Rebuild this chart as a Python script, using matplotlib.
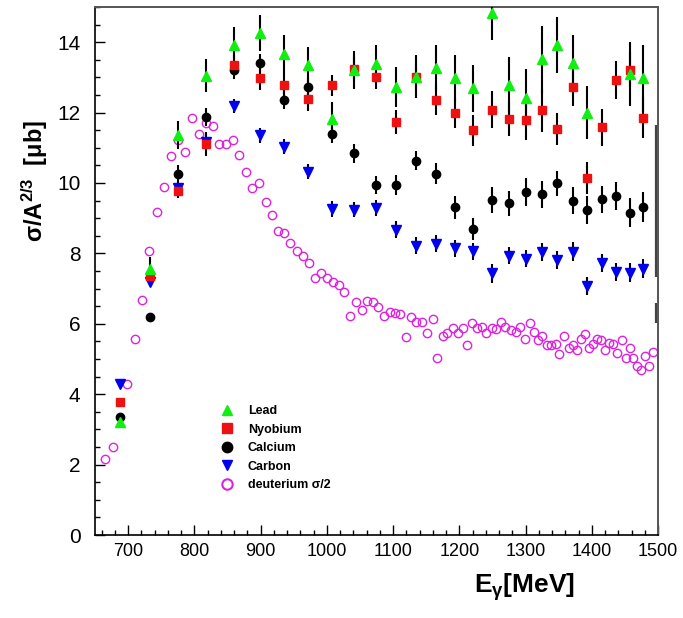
import matplotlib
matplotlib.use("Agg")
import matplotlib.pyplot as plt
from matplotlib.ticker import MultipleLocator
from matplotlib.lines import Line2D
import numpy as np

plt.rcParams["font.family"] = ["Liberation Sans", "DejaVu Sans"]
plt.rcParams["mathtext.fontset"] = "custom"
plt.rcParams["mathtext.rm"] = "Liberation Sans"
plt.rcParams["mathtext.bf"] = "Liberation Sans:bold"
plt.rcParams["mathtext.it"] = "Liberation Sans:italic"

nan = np.nan

# photon energy bins of the nuclear targets [MeV]
energy = [688, 733, 776, 818, 860, 899, 936, 972, 1008, 1041, 1074, 1105, 1135, 1165,
          1194, 1221, 1249, 1275, 1300, 1325, 1348, 1371, 1393, 1415, 1436, 1457, 1477]

# sigma / A^(2/3) [mub] and errors
lead = [3.21, 7.56, 11.36, 13.05, 13.93, 14.27, 13.66, 13.35, 11.82, 13.21, 13.38, 12.72, 13.02, 13.26,
        12.98, 12.69, 14.84, 12.77, 12.41, 13.52, 13.92, 13.40, 12.00, nan, nan, 13.10, 12.97]
lead_err = [0.15, 0.35, 0.40, 0.46, 0.49, 0.51, 0.54, 0.50, 0.48, 0.53, 0.54, 0.57, 0.61, 0.66,
            0.66, 0.66, 0.79, 0.80, 0.83, 0.95, 0.79, 0.79, 0.75, nan, nan, 0.90, 0.94]

nyobium = [3.78, 7.37, 9.78, 11.10, 13.35, 12.97, 12.77, 12.38, 12.77, 13.24, 13.02, 11.74, 13.00, 12.35,
           11.99, 11.50, 12.08, 11.82, 11.78, 12.06, 11.53, 12.74, 10.15, 11.58, 12.93, 13.22, 11.86]
nyobium_err = [0.12, 0.15, 0.20, 0.34, 0.30, 0.33, 0.35, 0.34, 0.31, 0.35, 0.35, 0.34, 0.35, 0.43,
               0.43, 0.44, 0.52, 0.49, 0.57, 0.60, 0.46, 0.54, 0.45, 0.53, 0.53, 0.50, 0.58]

calcium = [3.34, 6.20, 10.25, 11.87, 13.21, 13.40, 12.36, 12.74, 11.38, 10.84, 9.94, 9.94, 10.63, 10.26,
           9.31, 8.70, 9.52, 9.42, 9.75, 9.68, 9.99, 9.50, 9.24, 9.54, 9.63, 9.16, 9.31]
calcium_err = [0.10, 0.08, 0.25, 0.25, 0.25, 0.27, 0.26, 0.24, 0.24, 0.26, 0.26, 0.29, 0.27, 0.30,
               0.32, 0.31, 0.36, 0.36, 0.39, 0.39, 0.36, 0.38, 0.40, 0.38, 0.39, 0.40, 0.42]

carbon = [4.29, 7.20, 9.87, 11.17, 12.19, 11.36, 11.03, 10.32, 9.26, 9.24, 9.28, 8.67, 8.22, 8.28,
          8.15, 8.06, 7.43, 7.94, 7.85, 8.03, 7.82, 8.05, 7.07, 7.73, 7.47, 7.45, 7.56]
carbon_err = [0.08, 0.10, 0.15, 0.18, 0.21, 0.21, 0.22, 0.22, 0.22, 0.22, 0.23, 0.24, 0.24, 0.24,
              0.24, 0.24, 0.28, 0.25, 0.25, 0.26, 0.25, 0.26, 0.26, 0.26, 0.26, 0.27, 0.27]

# deuterium total cross section / 2
d_energy = [665, 677, 699, 710, 721, 732, 743, 754, 765, 776, 786, 796, 807, 818, 828, 837, 848, 858,
            867, 878, 887, 897, 908, 917, 926, 936, 945, 955, 964, 973, 982, 991, 1000, 1009, 1018,
            1026, 1035, 1044, 1053, 1061, 1069, 1078, 1086, 1095, 1103, 1111, 1119, 1127, 1135, 1143,
            1151, 1160, 1167, 1175, 1182, 1190, 1198, 1205, 1212, 1219, 1227, 1234, 1241, 1249, 1256,
            1263, 1269, 1278, 1285, 1292, 1299, 1306, 1313, 1319, 1325, 1332, 1339, 1346, 1351, 1358,
            1365, 1371, 1377, 1383, 1390, 1396, 1402, 1408, 1414, 1420, 1426, 1432, 1438, 1445, 1451,
            1457, 1463, 1469, 1474, 1480, 1486, 1492]
d_sigma = [2.16, 2.49, 4.28, 5.58, 6.69, 8.08, 9.17, 9.88, 10.76, 11.21, 10.88, 11.85, 11.38, 11.69,
           11.63, 11.12, 11.12, 11.21, 10.80, 10.30, 9.87, 9.99, 9.47, 9.10, 8.65, 8.58, 8.30, 8.08,
           7.92, 7.73, 7.30, 7.43, 7.31, 7.18, 7.09, 6.90, 6.22, 6.62, 6.39, 6.64, 6.62, 6.49, 6.21,
           6.34, 6.32, 6.28, 5.62, 6.19, 6.04, 6.06, 5.73, 6.13, 5.02, 5.64, 5.75, 5.87, 5.75, 5.88,
           5.41, 6.02, 5.88, 5.90, 5.73, 5.88, 5.85, 6.05, 5.92, 5.83, 5.77, 5.92, 5.58, 6.02, 5.78,
           5.55, 5.64, 5.40, 5.40, 5.42, 5.13, 5.66, 5.30, 5.40, 5.25, 5.56, 5.71, 5.30, 5.42, 5.58,
           5.53, 5.26, 5.45, 5.42, 5.17, 5.53, 5.02, 5.30, 5.02, 4.79, 4.70, 5.09, 4.79, 5.19]

# leftover error bars sitting on the upper edge of the energy range
edge_energy = 1497
edge_bars = [(7.33, 11.65), (6.02, 6.59)]

names = ["Lead", "Nyobium", "Calcium", "Carbon", "deuterium \u03c3/2"]
markers = ["^", "s", "o", "v", "o"]
colors = ["#11ee11", "#ee1111", "black", "#0000ee", "#dd22dd"]

fig = plt.figure(figsize=(6.83, 6.18), dpi=100)
ax = fig.add_axes([0.1391, 0.1343, 0.8243, 0.8544])

ax.plot(d_energy, d_sigma, "o", mfc="none", mec=colors[4], ms=6, mew=1.0, zorder=2)

for lo, hi in edge_bars:
    ax.vlines(edge_energy, lo, hi, color="#444444", lw=1.6, zorder=2)

common = dict(ecolor="black", elinewidth=1.5, capsize=0, linestyle="none", zorder=3)
ax.errorbar(energy, carbon, yerr=carbon_err, fmt="v", color=colors[3], ms=6.5, **common)
ax.errorbar(energy, calcium, yerr=calcium_err, fmt="o", color=colors[2], ms=6, **common)
ax.errorbar(energy, nyobium, yerr=nyobium_err, fmt="s", color=colors[1], ms=6, **common)
ax.errorbar(energy, lead, yerr=lead_err, fmt="^", color=colors[0], ms=6.5, **common)

ax.set_xlim(650, 1500)
ax.set_ylim(0, 15)
ax.xaxis.set_major_locator(MultipleLocator(100))
ax.xaxis.set_minor_locator(MultipleLocator(20))
ax.yaxis.set_major_locator(MultipleLocator(2))
ax.yaxis.set_minor_locator(MultipleLocator(0.5))
ax.tick_params(which="both", direction="in", top=False, right=False, width=1)
ax.tick_params(which="major", length=7)
ax.tick_params(which="minor", length=3.5)
ax.tick_params(axis="x", labelsize=13, pad=6)
ax.tick_params(axis="y", labelsize=15, pad=10.5)

for side in ["left", "bottom"]:
    ax.spines[side].set_color("black")
    ax.spines[side].set_linewidth(1.2)
for side in ["top", "right"]:
    ax.spines[side].set_color("#555555")
    ax.spines[side].set_linewidth(1.4)

# legend shows plain markers, no error bars
handles = []
for m, c in zip(markers, colors):
    if c == colors[4]:
        handles.append(Line2D([], [], marker=m, ls="none", mfc="none", mec=c, mew=1.5, ms=7.5))
    else:
        handles.append(Line2D([], [], marker=m, ls="none", color=c, ms=7.5))
ax.legend(handles, names, loc="upper left", bbox_to_anchor=(0.224, 0.246),
          frameon=False, prop={"size": 9, "weight": "bold"}, handlelength=1.0,
          handletextpad=1.15, labelspacing=0.52, borderpad=0, borderaxespad=0)

fig.text(35 / 683, 1 - 181 / 618, r"$\mathbf{\sigma/A^{2/3}}$  [$\mathbf{\mu}$b]",
         rotation=90, ha="center", va="center", fontsize=17, weight="bold")
fig.text(525 / 683, 1 - 593 / 618, r"E$_{\mathbf{\gamma}}$[MeV]",
         ha="center", va="baseline", fontsize=19, weight="bold")

fig.savefig("out.png", dpi=100)
